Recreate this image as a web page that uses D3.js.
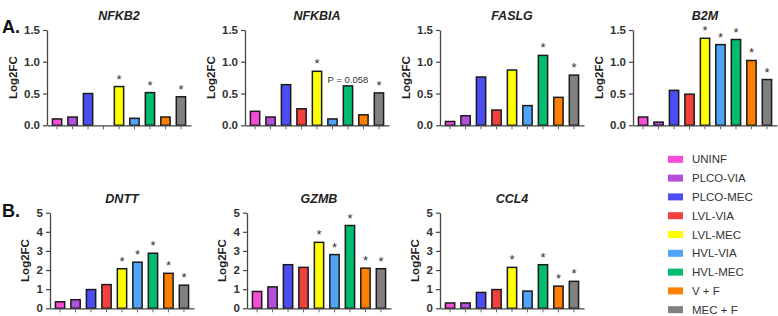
<!DOCTYPE html>
<html>
<head>
<meta charset="utf-8">
<script src="https://cdn.jsdelivr.net/npm/d3@7"></script>
<style>
  body { margin: 0; background: #fff; }
  svg { display: block; font-family: Arial, "Liberation Sans", sans-serif; }
</style>
</head>
<body>
<svg id="chart" width="778" height="316"></svg>
<script>
// groups / colours
var groups = ["UNINF", "PLCO-VIA", "PLCO-MEC", "LVL-VIA", "LVL-MEC", "HVL-VIA", "HVL-MEC", "V + F", "MEC + F"];
var groupColors = ["#f64cd9", "#b34fdb", "#4d4df4", "#f2403f", "#ffff00", "#50a4f7", "#00bc6e", "#ff7f00", "#808080"];

// panel A genes
var genesA = ["NFKB2", "NFKBIA", "FASLG", "B2M"];
var nfkb2  = [0.10, 0.13, 0.50, null, 0.61, 0.11, 0.515, 0.13, 0.45];
var nfkbia = [0.22, 0.13, 0.64, 0.26, 0.85, 0.10, 0.62, 0.165, 0.51];
var faslg  = [0.06, 0.15, 0.76, 0.24, 0.87, 0.31, 1.10, 0.44, 0.79];
var b2m    = [0.13, 0.05, 0.55, 0.49, 1.37, 1.27, 1.35, 1.02, 0.72];
var starsA = [[4, 6, 8], [4, 8], [6, 8], [4, 5, 6, 7, 8]];
var ticksA = [0, 0.5, 1.0, 1.5];

// panel B genes
var genesB = ["DNTT", "GZMB", "CCL4"];
var dntt = [0.34, 0.45, 0.98, 1.24, 2.07, 2.41, 2.88, 1.83, 1.21];
var gzmb = [0.88, 1.12, 2.28, 2.14, 3.45, 2.81, 4.33, 2.10, 2.07];
var ccl4 = [0.28, 0.28, 0.83, 0.98, 2.14, 0.90, 2.28, 1.16, 1.41];
var starsB = [[4, 5, 6, 7, 8], [4, 5, 6, 7, 8], [4, 6, 7, 8]];
var ticksB = [0, 1, 2, 3, 4, 5];

// p-value note (NFKBIA, HVL-MEC)
var pNote = {gene: "NFKBIA", group: 6, text: "P = 0.058"};

var svg = d3.select("#chart");
var axisColor = "#444";
var textColor = "#333";

function drawPanel(gene, values, stars, ticks, x0, yTop, yBottom, fmt) {
    var w = 144;
    var xScale = d3.scaleBand().domain(groups).range([x0, x0 + w])
        .paddingInner(0.4).paddingOuter(0.35);
    var yScale = d3.scaleLinear().domain([0, d3.max(ticks)]).range([yBottom, yTop]);
    var g = svg.append("g");

    var data = groups.map((grp, i) => ({group: grp, value: values[i], color: groupColors[i], star: stars.indexOf(i) >= 0, i: i}));

    g.selectAll(".bar")
        .data(data.filter(d => d.value !== null))
        .enter().append("rect")
        .attr("class", "bar")
        .attr("x", d => xScale(d.group))
        .attr("y", d => yScale(d.value))
        .attr("width", xScale.bandwidth())
        .attr("height", d => yBottom - yScale(d.value))
        .attr("fill", d => d.color)
        .attr("stroke", "#1a1a1a")
        .attr("stroke-width", 1.5);

    // y axis
    var ya = g.append("g")
        .attr("transform", `translate(${x0},0)`)
        .call(d3.axisLeft(yScale).tickValues(ticks).tickFormat(d3.format(fmt)).tickSize(4).tickSizeOuter(0));
    ya.select(".domain").attr("stroke", axisColor).attr("stroke-width", 1.3);
    ya.selectAll(".tick line").attr("stroke", axisColor).attr("stroke-width", 1.2);
    ya.selectAll(".tick text").attr("fill", textColor).style("font-size", "11.5px").style("font-weight", "bold");

    // x axis
    var xa = g.append("g")
        .attr("transform", `translate(0,${yBottom})`)
        .call(d3.axisBottom(xScale).tickSize(4).tickSizeOuter(0).tickFormat(""));
    xa.select(".domain").attr("stroke", axisColor).attr("stroke-width", 1.3);
    xa.selectAll(".tick line").attr("stroke", "#666").attr("stroke-width", 1);

    // stars
    g.selectAll(".star")
        .data(data.filter(d => d.star))
        .enter().append("text")
        .attr("x", d => xScale(d.group) + xScale.bandwidth() / 2)
        .attr("y", d => yScale(d.value) - 3)
        .attr("text-anchor", "middle")
        .attr("fill", textColor)
        .style("font-size", "13px")
        .text("*");

    if (pNote.gene === gene) {
        var pg = groups[pNote.group];
        g.append("text")
            .attr("x", xScale(pg) + xScale.bandwidth() / 2)
            .attr("y", yScale(values[pNote.group]) - 3)
            .attr("text-anchor", "middle")
            .attr("fill", textColor)
            .style("font-size", "9.5px")
            .text(pNote.text);
    }

    // title
    g.append("text")
        .attr("x", x0 + w / 2)
        .attr("y", yTop - 10)
        .attr("text-anchor", "middle")
        .attr("fill", "#222")
        .style("font-size", "12.5px")
        .style("font-weight", "bold")
        .style("font-style", "italic")
        .text(gene);

    // y label
    var labelX = x0 - (fmt === ".1f" ? 30 : 21);
    g.append("text")
        .attr("transform", `translate(${labelX},${(yTop + yBottom) / 2}) rotate(-90)`)
        .attr("text-anchor", "middle")
        .attr("fill", "#222")
        .style("font-size", "11.5px")
        .style("font-weight", "bold")
        .text("Log2FC");
}

var valuesA = [nfkb2, nfkbia, faslg, b2m];
var axisXA = [47, 245, 440, 633];
genesA.forEach((gene, i) => drawPanel(gene, valuesA[i], starsA[i], ticksA, axisXA[i], 30, 125.3, ".1f"));

var valuesB = [dntt, gzmb, ccl4];
var axisXB = [50, 247, 440];
genesB.forEach((gene, i) => drawPanel(gene, valuesB[i], starsB[i], ticksB, axisXB[i], 212.7, 308.3, "d"));

// panel letters
svg.append("text").attr("x", 2).attr("y", 33).attr("fill", "#111")
    .style("font-size", "18px").style("font-weight", "bold").text("A.");
svg.append("text").attr("x", 2).attr("y", 217).attr("fill", "#111")
    .style("font-size", "18px").style("font-weight", "bold").text("B.");

// legend
var legend = svg.append("g").attr("transform", "translate(668,159.3)");
var rows = legend.selectAll(".row")
    .data(groups)
    .enter().append("g")
    .attr("transform", (d, i) => `translate(0,${i * 18.8})`);
rows.append("rect")
    .attr("x", 0).attr("y", -3.5)
    .attr("width", 15).attr("height", 7)
    .attr("fill", (d, i) => groupColors[i]);
rows.append("text")
    .attr("x", 24).attr("y", 0)
    .attr("dy", "0.35em")
    .attr("fill", textColor)
    .style("font-size", "11.5px")
    .text(d => d);
</script>
</body>
</html>
